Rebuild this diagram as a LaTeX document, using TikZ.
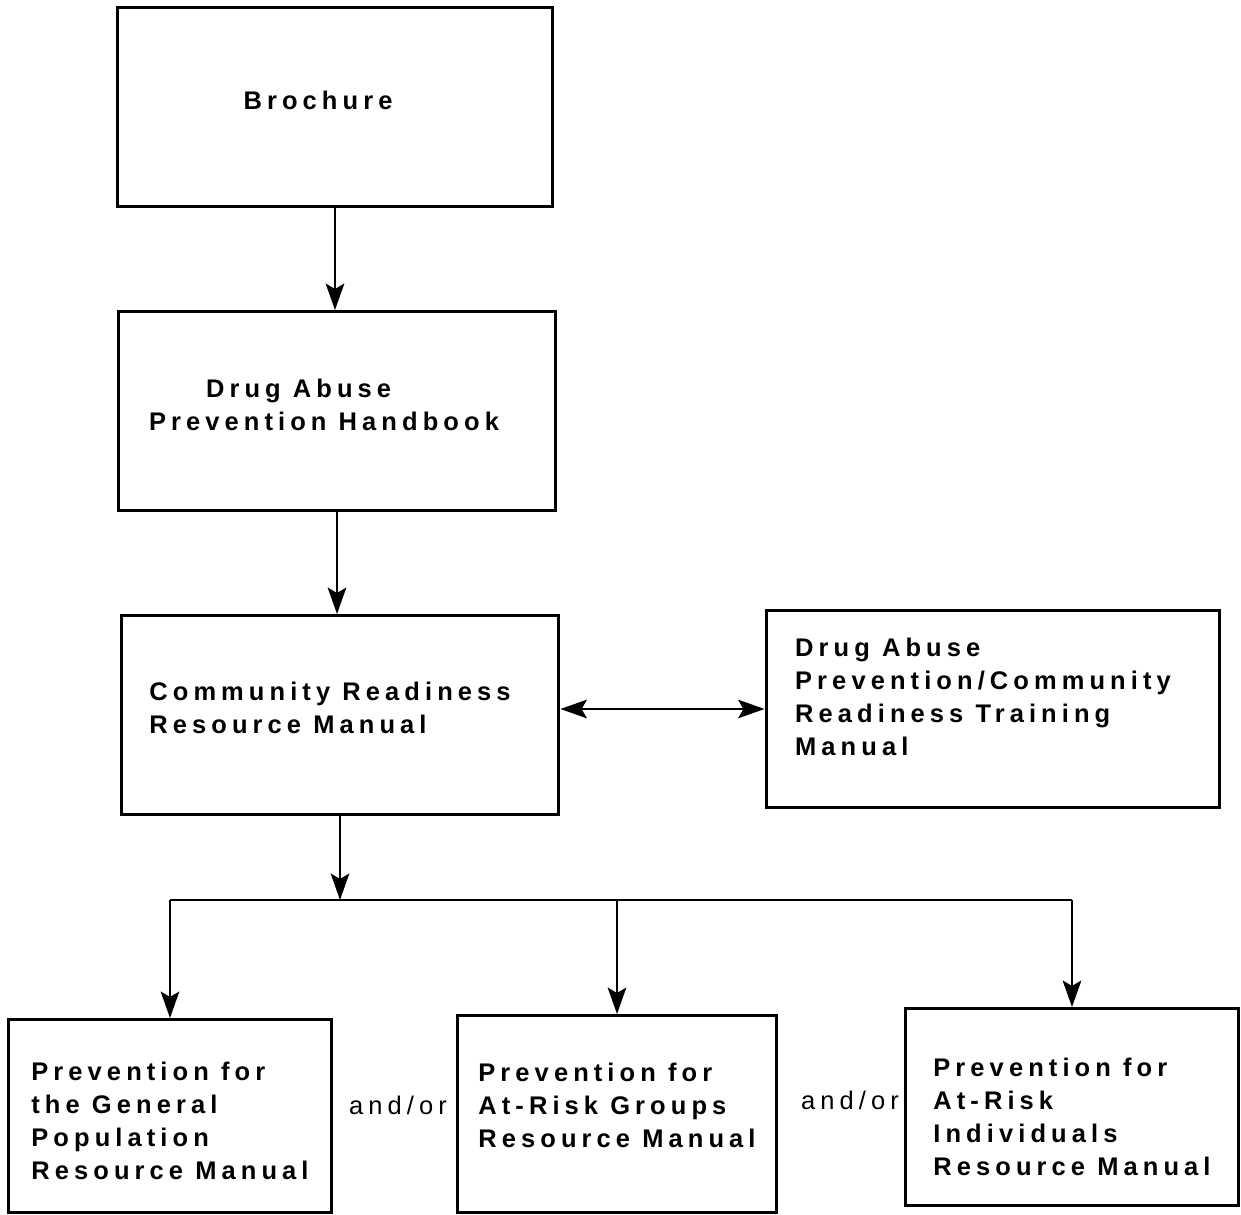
\documentclass[tikz,border=0pt]{standalone}
\usepackage{fontspec}
\setmainfont{Liberation Sans}[LetterSpace=20]
\usetikzlibrary{arrows.meta,positioning}
\tikzset{
  caja/.style={draw,line width=1.7pt,align=left,font=\fontsize{14.5}{18.8}\selectfont\bfseries,inner sep=0pt},
  flecha/.style={-{Stealth[length=15pt,width=10.5pt,inset=3pt]},line width=1.6pt},
  flechadoble/.style={{Stealth[length=15pt,width=10.5pt,inset=3pt]}-{Stealth[length=15pt,width=10.5pt,inset=3pt]},line width=1.6pt},
  linea/.style={line width=1.6pt},
  etiqueta/.style={font=\fontsize{14.5}{18.8}\selectfont,inner sep=1pt},
}
\begin{document}
\begin{tikzpicture}[x=0.02cm,y=-0.02cm]
  \useasboundingbox (0,0) rectangle (1241,1214);
  \node[caja,minimum width=8.72cm,minimum height=3.98cm,text depth=0.28cm] (folleto) at (335,107) {Brochure\hspace*{0.68cm}};
  \node[caja,minimum width=8.74cm,minimum height=3.98cm,text depth=0.24cm] (manual) at (337,411) {\hspace*{1.14cm}Drug Abuse\\Prevention Handbook\hspace*{0.52cm}};
  \node[caja,minimum width=8.76cm,minimum height=3.98cm,text depth=0.28cm] (comunidad) at (340,715) {Community Readiness\makebox[0.4cm]{}\\Resource Manual};
  \node[caja,minimum width=9.08cm,minimum height=3.94cm,text depth=0.48cm] (formacion) at (993,709) {Drug Abuse\\Prevention/Community\makebox[0.4cm]{}\\Readiness Training\\Manual};
  \node[caja,minimum width=6.46cm,minimum height=3.86cm,text height=72.7pt] (general) at (170,1116) {Prevention for\\the General\\Population\\Resource Manual};
  \node[caja,minimum width=6.38cm,minimum height=3.94cm,text depth=0.36cm] (grupos) at (617,1114) {Prevention for\\At-Risk Groups\\Resource Manual};
  \node[caja,minimum width=6.66cm,minimum height=3.94cm,text height=78.4pt] (individuos) at (1072,1107) {Prevention for\\At-Risk\\Individuals\\Resource Manual};
  \node[etiqueta] (yo1) at (398,1105) {and/or};
  \node[etiqueta] (yo2) at (850,1100) {and/or};
  \coordinate (bus) at (343,900);
  \draw[flecha] (folleto.south) -- (folleto.south |- manual.north);
  \draw[flecha] (manual.south) -- (manual.south |- comunidad.north);
  \draw[flechadoble] (comunidad.east |- formacion.west) -- (formacion.west);
  \draw[flecha] (comunidad.south) -- (comunidad.south |- bus);
  \draw[linea] (bus -| general) -- (bus -| individuos);
  \draw[flecha] (bus -| general) -- (general);
  \draw[flecha] (bus -| grupos) -- (grupos);
  \draw[flecha] (bus -| individuos) -- (individuos);
\end{tikzpicture}
\end{document}
